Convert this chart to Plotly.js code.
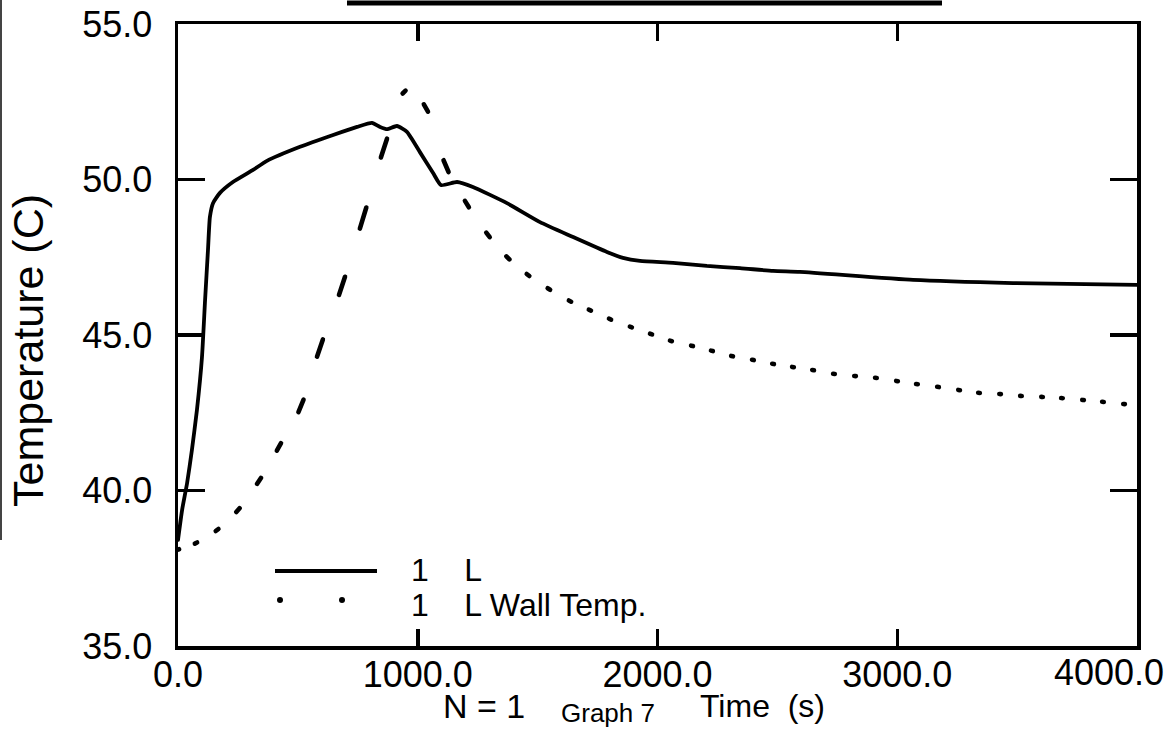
<!DOCTYPE html>
<html>
<head>
<meta charset="utf-8">
<script src="https://cdn.plot.ly/plotly-3.0.1.min.js"></script>
<style>
  html, body { margin: 0; padding: 0; background: #fff; }
  #chart { width: 1174px; height: 755px; }
  .js-line { stroke-linecap: round; stroke-linejoin: round; }
</style>
</head>
<body>
<div id="chart"></div>
<script>
// Liquid temperature at node "1 L" (s, deg C)
const timeL = [0, 17, 38, 58, 79, 100, 113, 125, 133, 146, 175, 229, 313, 371, 509, 647, 747, 809, 843, 872, 913, 955, 1009, 1064, 1097, 1164, 1230, 1372, 1510, 1648, 1789, 1856, 1927, 2065, 2206, 2344, 2482, 2594, 3066, 3483, 4000];
const tempL = [38.41, 39.37, 40.24, 41.30, 42.59, 44.29, 46.13, 47.73, 48.79, 49.24, 49.57, 49.92, 50.31, 50.60, 51.05, 51.43, 51.69, 51.82, 51.69, 51.62, 51.72, 51.53, 50.88, 50.21, 49.82, 49.92, 49.76, 49.24, 48.63, 48.15, 47.67, 47.48, 47.38, 47.32, 47.22, 47.15, 47.06, 47.03, 46.77, 46.67, 46.61];

// Wall temperature at node "1 L" (s, deg C)
const timeW = [0, 75, 163, 250, 338, 421, 513, 592, 684, 772, 859, 943, 1034, 1118, 1205, 1293, 1376, 1460, 1547, 1635, 1718, 1802, 1889, 1973, 2056, 2144, 2227, 2311, 2398, 2482, 2565, 2649, 2736, 2824, 2911, 2999, 3082, 3170, 3258, 3341, 3429, 3516, 3604, 3687, 3775, 3858, 3946];
const tempW = [38.10, 38.31, 38.73, 39.37, 40.31, 41.40, 42.72, 44.58, 46.58, 48.76, 51.01, 52.81, 52.30, 50.43, 49.21, 48.22, 47.48, 46.93, 46.48, 46.09, 45.80, 45.51, 45.26, 45.03, 44.81, 44.65, 44.49, 44.32, 44.20, 44.07, 43.97, 43.87, 43.75, 43.68, 43.62, 43.52, 43.42, 43.33, 43.23, 43.14, 43.10, 43.04, 43.01, 42.97, 42.91, 42.85, 42.78];

const seriesNames = ['1\u00A0\u00A0\u00A0\u00A0L', '1\u00A0\u00A0\u00A0\u00A0L Wall Temp.'];
const xTickVals = [0, 1000, 2000, 3000, 4000];
const xTickLabels = ['0.0', '1000.0', '2000.0', '3000.0', '4000.0'];
const yTickVals = [35, 40, 45, 50, 55];
const yTickLabels = ['35.0', '40.0', '45.0', '50.0', '55.0'];

// page and plot-area geometry (pixels)
const W = 1174, H = 755;
const PL = 178, PR = 1137, PT = 24, PB = 646;
const xRange = [0, 4000], yRange = [35, 55];
const px = x => (x - PL) / (PR - PL);
const py = y => (PB - y) / (PB - PT);

// The wall series is plotted as short strokes laid along the curve's local
// direction, the way the pen plotter drew its dotted line.
const sx = (PR - PL) / (xRange[1] - xRange[0]);
const sy = (PB - PT) / (yRange[1] - yRange[0]);
const dashX = [], dashY = [];
for (let i = 0; i < timeW.length; i++) {
  const a = Math.max(0, i - 1), b = Math.min(timeW.length - 1, i + 1);
  const slope = (tempW[b] - tempW[a]) / (timeW[b] - timeW[a]);
  const slopePx = Math.abs(slope * sy / sx);
  const halfPx = Math.min(5, 0.75 + 0.75 * slopePx);
  const dt = halfPx / sx;
  dashX.push(timeW[i] - dt, timeW[i] + dt, null);
  dashY.push(tempW[i] - slope * dt, tempW[i] + slope * dt, null);
}

const FONT = '"Liberation Sans", Arial, Helvetica, sans-serif';

const traces = [
  {
    x: timeL, y: tempL, type: 'scatter', mode: 'lines', name: seriesNames[0],
    line: { color: '#000', width: 3.8, shape: 'spline', smoothing: 0.5 },
    hoverinfo: 'skip'
  },
  {
    x: dashX, y: dashY, type: 'scatter', mode: 'lines', name: seriesNames[1],
    line: { color: '#000', width: 4.6 }, connectgaps: false,
    hoverinfo: 'skip'
  }
];

const axisCommon = {
  showline: true, linecolor: '#000', linewidth: 3.5,
  mirror: 'ticks', ticks: 'inside', tickcolor: '#000', tickwidth: 3.5,
  showgrid: false, zeroline: false, fixedrange: true,
  tickfont: { family: FONT, size: 36, color: '#000' }
};

const ann = (text, x, y, size, opts) => Object.assign({
  text: text, xref: 'paper', yref: 'paper', x: px(x), y: py(y),
  xanchor: 'left', yanchor: 'middle', showarrow: false,
  font: { family: FONT, size: size, color: '#000' }
}, opts || {});

const layout = {
  width: W, height: H,
  margin: { l: PL, r: W - PR, t: PT, b: H - PB, pad: 0 },
  paper_bgcolor: '#fff', plot_bgcolor: '#fff',
  showlegend: false,
  xaxis: Object.assign({}, axisCommon, {
    range: xRange, tickvals: xTickVals,
    ticktext: xTickLabels.map((t, i) => i === xTickLabels.length - 1 ? '' : t),
    ticklen: 17, ticklabelstandoff: -6
  }),
  yaxis: Object.assign({}, axisCommon, {
    range: yRange, tickvals: yTickVals, ticktext: yTickLabels,
    ticklen: 27, ticklabelstandoff: 15
  }),
  annotations: [
    ann('Temperature (C)', 28, 351, 43, { xanchor: 'center', textangle: -90 }),
    ann('Time\u00A0\u00A0(s)', 698, 706, 32),
    ann('N = 1', 441, 706, 34),
    ann('Graph 7', 559, 713, 26),
    ann(xTickLabels[xTickLabels.length - 1], 1166, 672, 36, { xanchor: 'right' }),
    ann(seriesNames[0], 409, 570, 32),
    ann(seriesNames[1], 409, 605, 32)
  ],
  shapes: [
    // legend samples
    { type: 'line', xref: 'paper', yref: 'paper', x0: px(275), x1: px(377), y0: py(571), y1: py(571),
      line: { color: '#000', width: 4 } },
    { type: 'circle', xref: 'paper', yref: 'paper', x0: px(277), x1: px(283), y0: py(597), y1: py(603),
      fillcolor: '#000', line: { width: 0 } },
    { type: 'circle', xref: 'paper', yref: 'paper', x0: px(339), x1: px(345), y0: py(597), y1: py(603),
      fillcolor: '#000', line: { width: 0 } },
    // heading rule above the frame
    { type: 'line', xref: 'paper', yref: 'paper', x0: px(347), x1: px(942), y0: py(3), y1: py(3),
      line: { color: '#000', width: 5 } },
    // sheet edge on the left
    { type: 'line', xref: 'paper', yref: 'paper', x0: px(1), x1: px(1), y0: py(0), y1: py(540),
      line: { color: '#444', width: 2 } }
  ]
};

Plotly.newPlot('chart', traces, layout, { staticPlot: true, displayModeBar: false });
</script>
</body>
</html>
